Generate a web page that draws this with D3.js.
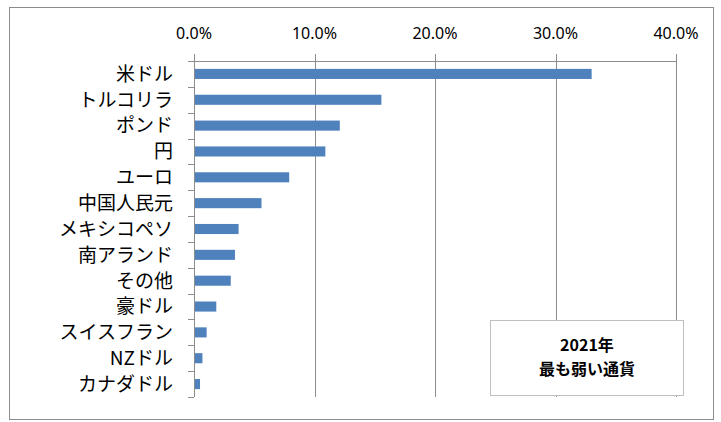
<!DOCTYPE html>
<html>
<head>
<meta charset="utf-8">
<script src="https://cdn.jsdelivr.net/npm/d3@7"></script>
<style>
  body { margin: 0; background: #fff; }
  svg { display: block; }
</style>
</head>
<body>
<div id="chart"></div>
<script>
// currencies, strongest decline first
var categories = ['米ドル', 'トルコリラ', 'ポンド', '円', 'ユーロ', '中国人民元', 'メキシコペソ',
                  '南アランド', 'その他', '豪ドル', 'スイスフラン', 'NZドル', 'カナダドル'];
var values = [33.0, 15.55, 12.1, 10.9, 7.9, 5.6, 3.7, 3.4, 3.05, 1.85, 1.05, 0.7, 0.5];
var xTicks = [0, 10, 20, 30, 40];
var boxLines = ['2021年', '最も弱い通貨'];

var width = 721, height = 422;
var margin = {top: 61, left: 194, right: 45, bottom: 25};

var svg = d3.select('#chart').append('svg')
    .attr('width', width)
    .attr('height', height);

// outer frame
svg.append('rect')
    .attr('x', 9.5).attr('y', 7.5)
    .attr('width', 704).attr('height', 412)
    .attr('fill', '#fff')
    .attr('stroke', '#8c8c8c')
    .attr('stroke-width', 1);

var x = d3.scaleLinear()
    .domain([0, 40])
    .range([margin.left, 676]);

var y = d3.scaleBand()
    .domain(categories)
    .range([margin.top, 397])
    .paddingInner(0.61)
    .paddingOuter(0.305);

// gridlines
svg.append('g').selectAll('line')
    .data(xTicks)
    .enter().append('line')
    .attr('x1', function(d) { return Math.round(x(d)) + 0.5; })
    .attr('x2', function(d) { return Math.round(x(d)) + 0.5; })
    .attr('y1', margin.top - 7)
    .attr('y2', 397)
    .attr('stroke', '#8c8c8c')
    .attr('stroke-width', 1);

// top axis line
svg.append('line')
    .attr('x1', x(0)).attr('x2', Math.round(x(40)) + 1)
    .attr('y1', margin.top + 0.5).attr('y2', margin.top + 0.5)
    .attr('stroke', '#8c8c8c');

// tick labels on top
svg.append('g').selectAll('text')
    .data(xTicks)
    .enter().append('text')
    .attr('x', function(d) { return x(d); })
    .attr('y', 39)
    .attr('text-anchor', 'middle')
    .style('font-family', '"Noto Sans", "Open Sans", sans-serif')
    .style('font-size', '16px')
    .text(function(d) { return d.toFixed(1) + '%'; });

// left axis with ticks at band boundaries
var bandStep = y.step();
var boundaries = d3.range(categories.length + 1).map(function(i) { return margin.top + i * bandStep; });
svg.append('line')
    .attr('x1', x(0) + 0.5).attr('x2', x(0) + 0.5)
    .attr('y1', margin.top).attr('y2', 397)
    .attr('stroke', '#8c8c8c');
svg.append('g').selectAll('line')
    .data(boundaries)
    .enter().append('line')
    .attr('x1', x(0) - 6).attr('x2', x(0))
    .attr('y1', function(d) { return Math.round(d) + 0.5; })
    .attr('y2', function(d) { return Math.round(d) + 0.5; })
    .attr('stroke', '#8c8c8c');

// bars
svg.append('g').selectAll('rect')
    .data(categories)
    .enter().append('rect')
    .attr('x', x(0) + 1)
    .attr('y', function(d) { return y(d); })
    .attr('width', function(d, i) { return x(values[i]) - x(0) - 1; })
    .attr('height', y.bandwidth())
    .attr('fill', '#4f81bd');

// category labels
svg.append('g').selectAll('text')
    .data(categories)
    .enter().append('text')
    .attr('x', 173)
    .attr('y', function(d) { return y(d) + y.bandwidth() / 2; })
    .attr('dy', '0.36em')
    .attr('text-anchor', 'end')
    .style('font-family', '"Noto Sans CJK JP", sans-serif')
    .style('font-size', '19px')
    .text(function(d) { return d; });

// annotation box
var box = svg.append('g');
box.append('rect')
    .attr('x', 490.5).attr('y', 320.5)
    .attr('width', 193).attr('height', 75)
    .attr('fill', '#fff')
    .attr('stroke', '#bfbfbf');
box.selectAll('text')
    .data(boxLines)
    .enter().append('text')
    .attr('x', 587)
    .attr('y', function(d, i) { return 351 + i * 24; })
    .attr('text-anchor', 'middle')
    .style('font-family', '"Noto Sans CJK JP", sans-serif')
    .style('font-size', '16px')
    .style('font-weight', 'bold')
    .text(function(d) { return d; });
</script>
</body>
</html>
